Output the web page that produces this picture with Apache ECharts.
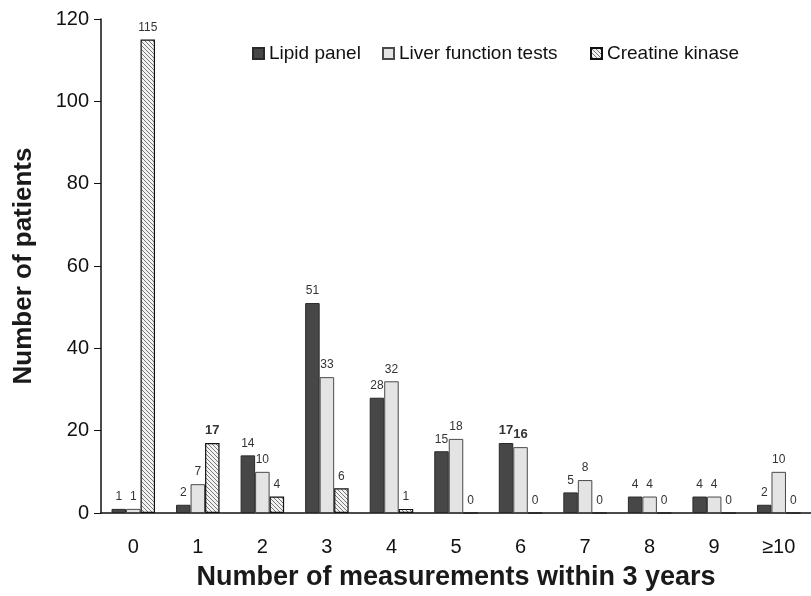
<!DOCTYPE html>
<html><head><meta charset="utf-8">
<script src="https://cdn.jsdelivr.net/npm/echarts@6/dist/echarts.min.js"></script>
<style>html,body{margin:0;padding:0;background:#fff}#c{width:811px;height:596px}</style>
</head><body><div id="c"></div>
<script>
const categories = ['0','1','2','3','4','5','6','7','8','9','≥10'];
const lipidPanel = [1,2,14,51,28,15,17,5,4,4,2];
const liverTests = [1,7,10,33,32,18,16,8,4,4,10];
const creatineKinase = [115,17,4,6,1,0,0,0,0,0,0];
const yTicks = [0,20,40,60,80,100,120];
const boldLabels = {lipid:[6], liver:[6], ck:[1]};

function hatch(){
  const c = document.createElement('canvas');
  c.width = 4; c.height = 4;
  const g = c.getContext('2d');
  g.fillStyle = '#f2f2f2'; g.fillRect(0,0,4,4);
  g.strokeStyle = '#7a7a7a'; g.lineWidth = 1;
  g.beginPath();
  g.moveTo(-1,-1); g.lineTo(5,5);
  g.moveTo(-1,3); g.lineTo(1,5);
  g.moveTo(3,-1); g.lineTo(5,1);
  g.stroke();
  return c;
}
const hatchImg = hatch();

function mk(vals, bolds){
  return vals.map((v,i)=> bolds.includes(i) ? {value:v, label:{fontWeight:'bold', fontSize:13}} : v);
}
const FF = 'Liberation Sans, Arial, sans-serif';
const lbl = {show:true, position:'top', distance:6, fontSize:12, color:'#333', fontFamily:FF};
const chart = echarts.init(document.getElementById('c'));
const legText = {fontSize:19, color:'#111', fontFamily:FF};
chart.setOption({
  animation:false,
  grid:{left:101, right:-11, top:19, bottom:77, containLabel:false},
  legend:[
    {data:['Lipid panel'], left:247, top:39, itemWidth:11, itemHeight:11, icon:'rect', textStyle:legText},
    {data:['Liver function tests'], left:377, top:39, itemWidth:11, itemHeight:11, icon:'rect', textStyle:legText},
    {data:['Creatine kinase'], left:585, top:39, itemWidth:11, itemHeight:11, icon:'rect', textStyle:legText}
  ],
  xAxis:{type:'category', data:categories,
    axisLine:{lineStyle:{color:'#111', width:1.5}}, axisTick:{show:false},
    axisLabel:{fontSize:20, color:'#111', margin:24, fontFamily:FF},
    name:'Number of measurements within 3 years', nameLocation:'middle', nameGap:51,
    nameTextStyle:{fontSize:27, fontWeight:'bold', color:'#1a1a1a', fontFamily:FF}
  },
  yAxis:{type:'value', min:0, max:120, interval:20,
    axisLine:{show:true, lineStyle:{color:'#111', width:1.5}},
    axisTick:{show:true, length:7, lineStyle:{color:'#111'}},
    splitLine:{show:false},
    axisLabel:{fontSize:20, color:'#111', margin:12, fontFamily:FF,
      formatter:v=> yTicks.includes(v) ? String(v) : ''},
    name:'Number of patients', nameLocation:'middle', nameGap:64,
    nameTextStyle:{fontSize:26, fontWeight:'bold', color:'#1a1a1a', fontFamily:FF}
  },
  series:[
    {name:'Lipid panel', type:'bar', data:mk(lipidPanel, boldLabels.lipid), barWidth:14.5, barGap:'0%',
      itemStyle:{color:'#474747', borderColor:'#2a2a2a', borderWidth:1}, label:lbl},
    {name:'Liver function tests', type:'bar', data:mk(liverTests, boldLabels.liver), barWidth:14.5, barGap:'0%',
      itemStyle:{color:'#e4e4e4', borderColor:'#4a4a4a', borderWidth:1}, label:lbl},
    {name:'Creatine kinase', type:'bar', data:mk(creatineKinase, boldLabels.ck), barWidth:14.5, barGap:'0%',
      itemStyle:{color:{image:hatchImg, repeat:'repeat'}, borderColor:'#111', borderWidth:1.2}, label:lbl}
  ]
});
</script></body></html>
